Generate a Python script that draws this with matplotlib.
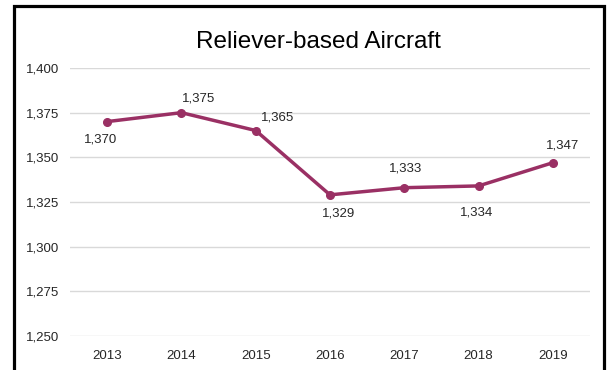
import matplotlib.pyplot as plt
from matplotlib.patches import Rectangle

years = ["2013", "2014", "2015", "2016", "2017", "2018", "2019"]
aircraft = [1370, 1375, 1365, 1329, 1333, 1334, 1347]
# label offsets in pixels (dx, dy) relative to each point
label_offsets = [(-7, -18), (17, 14), (22, 13), (9, -19), (1, 19), (-2, -27), (10, 17)]

plt.rcParams['font.family'] = ['Liberation Sans', 'DejaVu Sans']

fig = plt.figure(figsize=(6.1, 3.7), dpi=100)
ax = fig.add_axes([70 / 610, 1 - 336 / 370, 520 / 610, (336 - 68) / 370])

x = list(range(len(years)))
color = '#9A3064'
ax.plot(x, aircraft, color=color, linewidth=2.5, marker='o', markersize=5.5, zorder=3)

for xi, v, (dx, dy) in zip(x, aircraft, label_offsets):
    ax.annotate(f"{v:,}", (xi, v), xytext=(dx, dy), textcoords='offset pixels',
                ha='center', va='center', fontsize=9.5, color='#262626')

ax.set_xlim(-0.5, len(years) - 0.5)
ax.set_ylim(1250, 1400)
ax.set_yticks(range(1250, 1401, 25))
ax.set_yticklabels([f"{t:,}" for t in range(1250, 1401, 25)])
ax.set_xticks(x)
ax.set_xticklabels(years)
ax.tick_params(length=0, labelsize=9.5, labelcolor='#262626')
ax.tick_params(axis='x', pad=10)
ax.tick_params(axis='y', pad=8)
ax.grid(axis='y', color='#D9D9D9', linewidth=1)
ax.set_axisbelow(True)
for s in ax.spines.values():
    s.set_visible(False)

fig.text(318 / 610, 1 - 42 / 370, "Reliever-based Aircraft",
         ha='center', va='center', fontsize=17.5, color='black')

fig.add_artist(Rectangle((13.5 / 610, -0.1), (604 - 13.5) / 610, 1.1 - 6.5 / 370,
                         transform=fig.transFigure, fill=False, edgecolor='black',
                         linewidth=2.3, clip_on=False))

fig.savefig("out.png", dpi=100)
